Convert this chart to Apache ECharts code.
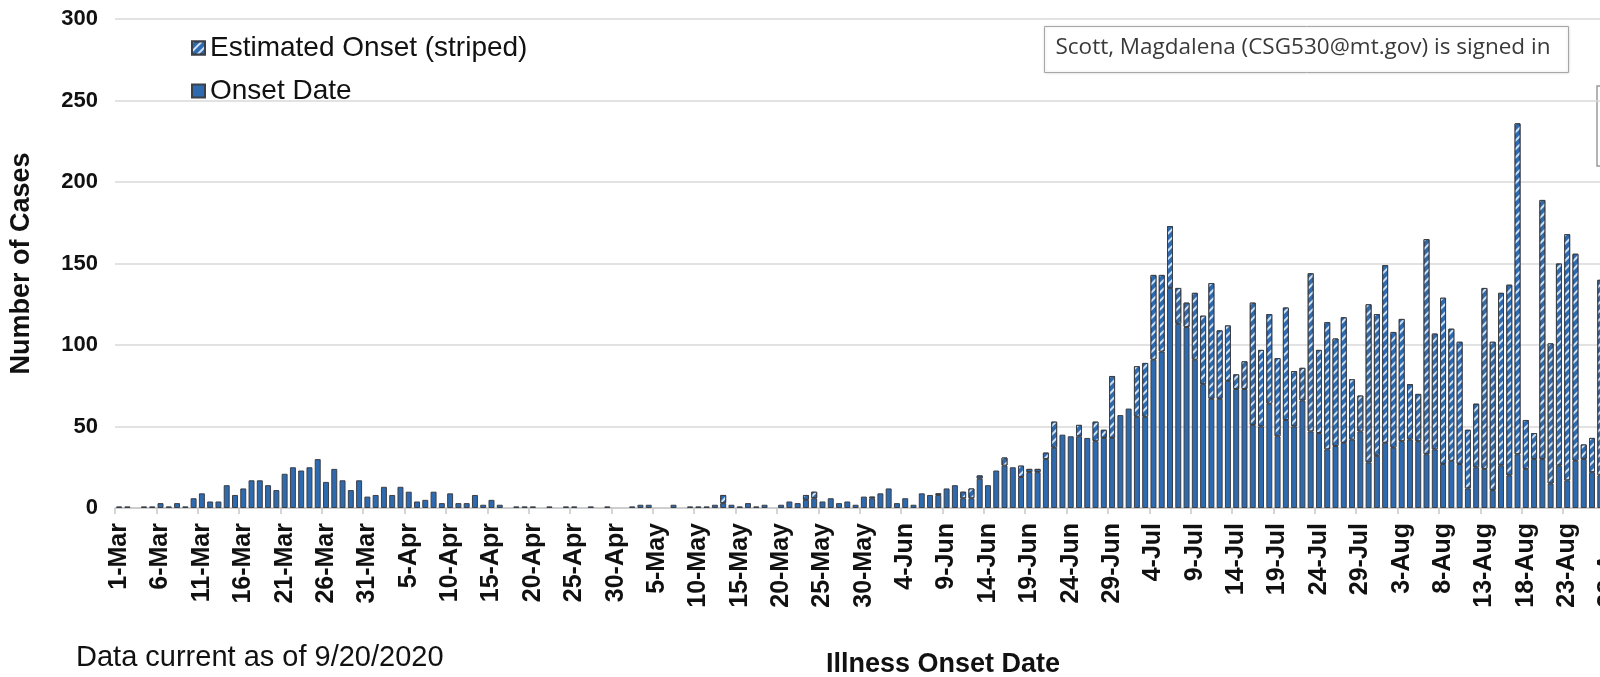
<!DOCTYPE html>
<html>
<head>
<meta charset="utf-8">
<script src="https://cdn.jsdelivr.net/npm/echarts@6/dist/echarts.min.js"></script>
<style>
html,body{margin:0;padding:0;background:#fff;overflow:hidden;width:1600px;height:677px;}
#chart{width:1660px;height:677px;}
</style>
</head>
<body>
<div id="chart"></div>
<script>
// Months shown on the category axis (month label, number of days visible)
const months = [['Mar',31],['Apr',30],['May',31],['Jun',30],['Jul',31],['Aug',28]];
const categories = [];
months.forEach(([m, n]) => { for (let d = 1; d <= n; d++) categories.push(d + '-' + m); });

// Cases by illness onset date (solid portion)
const onsetDate = [
1,1,0,1,1,3,1,3,1,6,
9,4,4,14,8,12,17,17,14,11,
21,25,23,25,30,16,24,17,11,17,
7,8,13,8,13,10,4,5,10,3,
9,3,3,8,2,5,2,0,1,1,
1,0,1,0,1,1,0,1,0,1,
0,0,1,2,2,0,0,2,0,1,
1,1,2,3,2,1,3,1,2,0,
2,4,3,5,6,4,6,3,4,2,
7,6,9,12,3,6,2,9,8,8,
12,14,6,6,18,14,23,26,25,19,
22,22,30,37,45,44,44,43,41,43,
43,57,61,56,56,91,96,135,113,111,
91,76,67,67,78,73,73,51,50,64,
44,54,50,66,47,46,36,38,40,42,
47,28,32,40,37,41,42,41,33,36,
27,29,27,12,25,24,11,26,20,33,
24,30,30,15,26,17,29,30,22,20];

// Cases with estimated onset (striped portion, stacked on top)
const estimatedOnset = [
0,0,0,0,0,0,0,0,0,0,
0,0,0,0,0,0,0,0,0,0,
0,0,0,0,0,0,0,0,0,0,
0,0,0,0,0,0,0,0,0,0,
0,0,0,0,0,0,0,0,0,0,
0,0,0,0,0,0,0,0,0,0,
0,0,0,0,0,0,0,0,0,0,
0,0,0,5,0,0,0,0,0,0,
0,0,0,3,4,0,0,0,0,0,
0,1,0,0,0,0,0,0,0,1,
0,0,4,6,2,0,0,5,0,7,
2,2,4,16,0,0,7,0,12,5,
38,0,0,31,33,52,47,38,22,15,
41,42,71,42,34,9,17,75,47,55,
48,69,34,20,97,51,78,66,77,37,
22,97,87,109,71,75,34,29,132,71,
102,81,75,36,39,111,91,106,117,203,
30,16,159,86,124,151,127,9,21,120];

const yTicks = [0, 50, 100, 150, 200, 250, 300];

const FONT = "'Liberation Sans', Arial, sans-serif";
const BLUE = '#2d6ab0';
const EDGE = '#3b3f46';

const chart = echarts.init(document.getElementById('chart'), null, {renderer: 'canvas'});
chart.setOption({
  animation: false,
  backgroundColor: '#ffffff',
  grid: { left: 114, top: 19, width: 1498.7, height: 489, containLabel: false },
  legend: {
    orient: 'vertical', left: 186, top: 29, itemGap: 15,
    itemWidth: 13, itemHeight: 13, icon: 'rect',
    data: ['Estimated Onset (striped)', 'Onset Date'],
    textStyle: { fontFamily: FONT, fontSize: 28, color: '#111' }
  },
  xAxis: {
    type: 'category', data: categories, boundaryGap: true,
    axisLine: { lineStyle: { color: '#c8c8c8', width: 1.5 } },
    axisTick: { show: true, interval: 4, length: 6, lineStyle: { color: '#c8c8c8', width: 1.5 } },
    axisLabel: { interval: 4, rotate: 90, margin: 15, fontFamily: FONT, fontSize: 25, fontWeight: 'bold', color: '#111' },
    splitLine: { show: false }
  },
  yAxis: {
    type: 'value', min: yTicks[0], max: yTicks[yTicks.length - 1], interval: 50,
    name: 'Number of Cases', nameLocation: 'middle', nameGap: 80, nameRotate: 90,
    nameTextStyle: { fontFamily: FONT, fontSize: 27, fontWeight: 'bold', color: '#111' },
    axisLine: { show: false }, axisTick: { show: false },
    axisLabel: { margin: 17, fontFamily: FONT, fontSize: 22, fontWeight: 'bold', color: '#111' },
    splitLine: { lineStyle: { color: '#d9d9d9', width: 1.5 } }
  },
  series: [
    {
      name: 'Onset Date', type: 'bar', stack: 'cases',
      data: onsetDate.map(v => v === 0 ? null : v),
      barCategoryGap: '28%',
      itemStyle: { color: BLUE, borderColor: EDGE, borderWidth: 1 }
    },
    {
      name: 'Estimated Onset (striped)', type: 'bar', stack: 'cases',
      data: estimatedOnset.map(v => v === 0 ? null : v),
      barCategoryGap: '28%',
      itemStyle: {
        color: BLUE, borderColor: EDGE, borderWidth: 1,
        decal: {
          symbol: 'rect', symbolSize: 1, color: 'rgba(214,233,252,0.95)',
          dashArrayX: [1, 0], dashArrayY: [2, 4], rotation: -Math.PI / 4
        }
      }
    }
  ],
  graphic: [
    { type: 'text', left: 76, top: 643,
      style: { text: 'Data current as of 9/20/2020', font: "29px 'Liberation Sans', Arial, sans-serif", fill: '#111' } },
    { type: 'text', left: 826, top: 651,
      style: { text: 'Illness Onset Date', font: "bold 27px 'Liberation Sans', Arial, sans-serif", fill: '#111' } },
    { type: 'group', left: 1044, top: 26, children: [
      { type: 'rect', shape: { x: 0, y: 0, width: 524, height: 46 },
        style: { fill: '#ffffff', stroke: '#a6a6a6', lineWidth: 1, shadowBlur: 3, shadowColor: 'rgba(0,0,0,0.15)' } },
      { type: 'text', x: 11, y: 10,
        style: { text: 'Scott, Magdalena (CSG530@mt.gov) is signed in', font: "22.5px 'Open Sans', 'Noto Sans', sans-serif", fill: '#3a3a3a' } }
    ]},
    { type: 'rect', shape: { x: 1597, y: 86, width: 8, height: 80 },
      style: { fill: '#ffffff', stroke: '#9a9a9a', lineWidth: 1.5 } }
  ]
});
</script>
</body>
</html>
